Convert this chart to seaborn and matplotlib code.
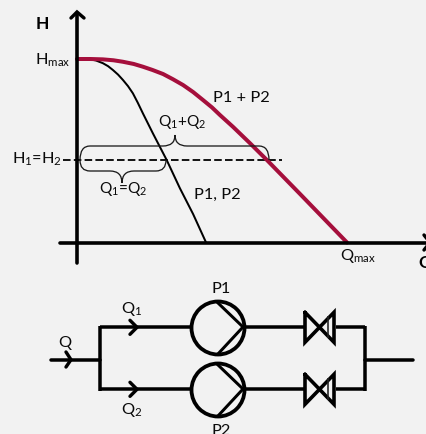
import numpy as np
import pandas as pd
import matplotlib
matplotlib.use("Agg")
import matplotlib.pyplot as plt
import seaborn as sns
from matplotlib.patches import Circle, PathPatch
from matplotlib.path import Path

# curve readings, Q and H in % of Qmax / Hmax
q_single = [0, 2.5, 4.8, 7, 9.6, 11.5, 13.3, 15.2, 17, 18.9, 20.7, 22.5, 24.4, 28.1, 31.3, 33.2, 38.1, 43, 47.8]
h_single = [100, 100, 99.8, 99.2, 97.7, 96.1, 94, 91.5, 88.6, 85.2, 81.3, 76.2, 70.4, 59.5, 50.4, 45, 29.6, 15.5, 0]
q_parallel = [0, 5, 9.6, 13.5, 17, 21, 24.4, 28, 31.9, 35.5, 39.3, 43, 46.7, 50, 53, 57.8, 64, 70.3, 82.7, 100]
h_parallel = [100, 100, 99.8, 99.3, 98.5, 97.3, 95.8, 94, 91.8, 89, 85.8, 82, 77.6, 73.6, 69.4, 63, 54.2, 45, 26.3, 0]
h_operating = 45

BG = "#f2f2f2"
RED = "#a50f3c"
BLACK = "#000000"
INK = "#0a0a0a"
PX = 0.72  # px to points at dpi 100

sns.set_theme(style="white")
plt.rcParams["font.family"] = ["Lato", "DejaVu Sans"]
plt.rcParams["mathtext.fontset"] = "custom"
plt.rcParams["mathtext.rm"] = "Lato"
plt.rcParams["mathtext.default"] = "rm"

fig = plt.figure(figsize=(4.27, 4.34), dpi=100, facecolor=BG)

# chart axes: origin at px (77, 242.5), 2.7 px per Q, 1.835 px per H
ax = fig.add_axes([0, 0, 1, 1], facecolor="none")
ax.set_xlim(-77 / 2.7, 350 / 2.7)
ax.set_ylim(-191.5 / 1.835, 242.5 / 1.835)
ax.axis("off")

single = pd.DataFrame({"Q": q_single, "H": h_single})
parallel = pd.DataFrame({"Q": q_parallel, "H": h_parallel})
sns.lineplot(data=single, x="Q", y="H", sort=False, color=BLACK, lw=2.0 * PX, ax=ax, zorder=3)
sns.lineplot(data=parallel, x="Q", y="H", sort=False, color=RED, lw=4.0 * PX, ax=ax, zorder=4)
ax.plot([-5, 76], [h_operating, h_operating], color=BLACK, lw=1.8 * PX, dashes=(4.2, 1.8), zorder=3)

# overlay in image pixels for the annotations and the schematic
ov = fig.add_axes([0, 0, 1, 1], facecolor="none")
ov.set_xlim(0, 427)
ov.set_ylim(434, 0)
ov.axis("off")


def line(xs, ys, lw=3.5, color=BLACK, cap="round"):
    ov.plot(xs, ys, color=color, lw=lw * PX, solid_capstyle=cap, solid_joinstyle="miter", zorder=5)


def brace(x0, x1, tip, y, tip_y):
    # curly bracket from (x0, mid) to (x1, mid) with its point at tip
    mid = 160
    verts = [(x0, mid), (x0, y), (x0 + 10, y), (tip - 12, y), (tip, y), (tip, tip_y),
             (tip, y), (tip + 12, y), (x1 - 10, y), (x1, y), (x1, mid)]
    codes = [Path.MOVETO, Path.CURVE3, Path.CURVE3, Path.LINETO, Path.CURVE3, Path.CURVE3,
             Path.CURVE3, Path.CURVE3, Path.LINETO, Path.CURVE3, Path.CURVE3]
    ov.add_patch(PathPatch(Path(verts, codes), fc="none", ec="#1a1a1a", lw=1.3 * PX, zorder=2))


# axes with arrow heads
line([77, 77], [13, 263], lw=3.6)
line([71, 77, 84], [18, 12, 18], lw=3.4)
line([60, 430], [242.5, 242.5], lw=3.6)
line([424, 430, 424], [235, 242.5, 250], lw=3.4)

# braces
brace(80, 269, 175, 146, 135)
brace(80, 166, 122, 171, 183)

# labels
fs = 11.8
ov.text(36, 24, "H", fontsize=12.5, fontweight="bold", va="center", color=BLACK)
ov.text(35, 60, "H$_{\\mathrm{max}}$", fontsize=fs, va="center", color=INK)
ov.text(12, 159, "H$_{1}$=H$_{2}$", fontsize=fs, va="center", color=INK)
ov.text(213, 98, "P1 + P2", fontsize=fs, va="center", color=INK)
ov.text(158, 122, "Q$_{1}$+Q$_{2}$", fontsize=fs - 0.6, va="center", color=INK)
ov.text(99, 189, "Q$_{1}$=Q$_{2}$", fontsize=fs - 0.6, va="center", color=INK)
ov.text(194, 195, "P1, P2", fontsize=fs, va="center", color=INK)
ov.text(340, 256, "Q$_{\\mathrm{max}}$", fontsize=fs, va="center", color=INK)
ov.text(418, 262, "Q", fontsize=12.5, fontweight="bold", va="center", color=BLACK)
ov.text(212, 289, "P1", fontsize=fs, va="center", color=INK)
ov.text(212, 431, "P2", fontsize=fs, va="center", color=INK)
ov.text(121, 309, "Q$_{1}$", fontsize=fs, va="center", color=INK)
ov.text(121, 410, "Q$_{2}$", fontsize=fs, va="center", color=INK)
ov.text(58, 343, "Q", fontsize=fs, va="center", color=INK)

# schematic
y_mid = 359.7
line([51, 100], [y_mid, y_mid])
line([365, 413], [y_mid, y_mid])
line([100, 100], [325.5, 391], cap="butt")
line([365, 365], [325.5, 391], cap="butt")
line([66, 71, 66], [352, y_mid, 367], lw=3.4)

for y, cy in [(327.3, 328), (389.3, 390)]:
    line([100, 190], [y, y], cap="butt")
    line([130, 137, 130], [y - 7, y, y + 7], lw=3.4)
    ov.add_patch(Circle((218, cy), 26.5, fc="none", ec=BLACK, lw=3.8 * PX, zorder=5))
    line([217, 243, 217], [cy - 26, cy - 1, cy + 27], lw=3.0, cap="butt")
    line([246, 305], [y, y], cap="butt")
    # valve
    line([305, 305, 334, 334, 305], [y - 15, y + 15, y - 15, y + 15, y - 15], lw=3.6)
    line([328, 328], [y - 11, y + 11], lw=1.6, color="#222222", cap="butt")
    line([336, 365], [y, y], cap="butt")

fig.savefig("out.png", dpi=100, facecolor=BG)
